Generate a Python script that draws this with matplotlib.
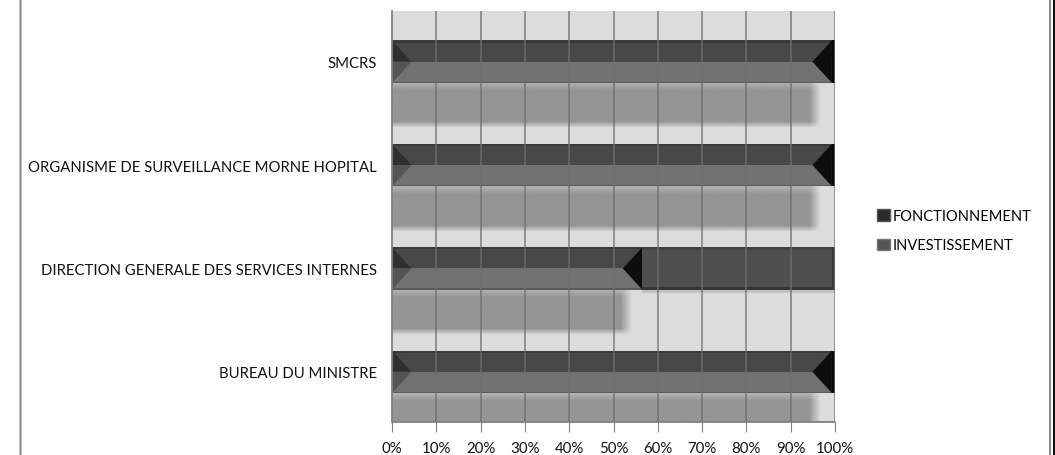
import numpy as np
import matplotlib
matplotlib.use("Agg")
import matplotlib.pyplot as plt
from matplotlib.patches import Rectangle, Polygon, FancyBboxPatch, Patch

# ---- data ----
categories = ["BUREAU DU MINISTRE",
              "DIRECTION GENERALE DES SERVICES INTERNES",
              "ORGANISME DE SURVEILLANCE MORNE HOPITAL",
              "SMCRS"]
fonctionnement = [99.3, 56.5, 99.3, 99.3]
investissement = [0.7, 43.5, 0.7, 0.7]
tick_labels = ["0%", "10%", "20%", "30%", "40%", "50%", "60%", "70%", "80%", "90%", "100%"]
series_names = ["FONCTIONNEMENT", "INVESTISSEMENT"]

FONT = ["Lato", "DejaVu Sans"]
plt.rcParams['font.family'] = FONT

fig = plt.figure(figsize=(10.55, 4.56), dpi=100)
ax = fig.add_axes([392/1055, 33/456, 443/1055, 411/456])
ax.set_facecolor("#dcdcdc")

H = 0.41
TW = 4.4  # bevel width in percent units

def soft_rect(ax, x0, x1, y0, y1, color, soft_x, soft_y, z):
    nx, ny = 400, 80
    xs = np.linspace(x0, x1 + soft_x, nx)
    ys = np.linspace(y0 - soft_y, y1, ny)
    X, Y = np.meshgrid(xs, ys)
    ax_ = np.clip((x1 + soft_x / 2 - X) / soft_x + 0.5, 0, 1)
    ay_ = np.clip((Y - (y0 - soft_y / 2)) / soft_y + 0.5, 0, 1)
    top = np.clip((y1 - Y) / (soft_y * 1.2), 0, 1) * 0.45 + 0.55
    a = ax_ * ay_ * top
    img = np.zeros((ny, nx, 4))
    c = matplotlib.colors.to_rgb(color)
    img[..., 0], img[..., 1], img[..., 2] = c
    img[..., 3] = a
    ax.imshow(img, extent=(x0, x1 + soft_x, y0 - soft_y, y1), origin="lower",
              aspect="auto", interpolation="bilinear", zorder=z)

for i, (f, inv) in enumerate(zip(fonctionnement, investissement)):
    yb = i - H / 2
    # shadow below fonctionnement bar
    soft_rect(ax, 0, f - 5, yb - H + 0.03, yb, "#959595", 2.5, 0.06, 1)

for i, (f, inv) in enumerate(zip(fonctionnement, investissement)):
    yb, yt, ym = i - H / 2, i + H / 2, i
    # fonctionnement: bevelled bar
    ax.add_patch(Rectangle((0, ym), f, H / 2, facecolor="#484848", edgecolor="none", zorder=3))
    ax.add_patch(Rectangle((0, yb), f, H / 2, facecolor="#717171", edgecolor="none", zorder=3))
    ax.add_patch(Rectangle((0, yt - 0.02), f, 0.02, facecolor="#3a3a3a", edgecolor="none", zorder=3))
    ax.add_patch(Rectangle((0, yb), f, 0.012, facecolor="#5a5a5a", edgecolor="none", zorder=3))
    ax.add_patch(Polygon([(0, yt), (TW, ym), (0, ym)], closed=True, facecolor="#2f2f2f", edgecolor="none", zorder=3))
    ax.add_patch(Polygon([(0, ym), (TW, ym), (0, yb)], closed=True, facecolor="#545454", edgecolor="none", zorder=3))
    ax.add_patch(Polygon([(f, yt), (f - TW, ym), (f, yb)], closed=True, facecolor="#0d0d0d", edgecolor="none", zorder=3))
    # investissement
    ax.add_patch(Rectangle((f, yb), inv, H, facecolor="#4f4f4f" if inv > 5 else "#0a0a0a",
                           edgecolor="none", zorder=3))
    if inv > 5:
        ax.add_patch(Rectangle((f, yt - 0.025), inv, 0.025, facecolor="#424242", edgecolor="none", zorder=3))
        ax.add_patch(Rectangle((f, yb), inv, 0.03, facecolor="#353535", edgecolor="none", zorder=3))
        ax.add_patch(Rectangle((f + inv - 0.6, yb), 0.6, H, facecolor="#3e3e3e", edgecolor="none", zorder=3))
        ax.add_patch(Rectangle((f, yb - 0.035), inv, 0.035, facecolor="#c2c2c2", edgecolor="none", zorder=2))

ax.set_xlim(0, 100)
ax.set_ylim(-0.485, 3.49)
ax.set_xticks(np.arange(0, 101, 10))
ax.set_xticklabels(tick_labels, fontsize=10.8, color="#111111")
ax.set_yticks(range(len(categories)))
ax.set_yticklabels(categories, fontsize=10.7, color="#111111")
ax.tick_params(axis="y", length=0, pad=11)
ax.tick_params(axis="x", length=7, color="#808080", pad=7, direction="out")
for x in np.arange(10, 101, 10):
    ax.axvline(x, color="#6f6f6f", lw=1.3, alpha=0.75, zorder=4)
for s in ["top", "right"]:
    ax.spines[s].set_visible(False)
for s in ["left", "bottom"]:
    ax.spines[s].set_color("#808080")
    ax.spines[s].set_linewidth(1.3)
    ax.spines[s].set_zorder(5)

handles = [Patch(facecolor="#2b2b2b", edgecolor="#555555"), Patch(facecolor="#555555", edgecolor="#777777")]
fig.legend(handles, series_names, loc="upper left", bbox_to_anchor=(877/1055, 1 - 210/456),
           frameon=False, fontsize=10.5, handlelength=0.9, handleheight=0.8, handletextpad=0.2,
           labelspacing=1.05, borderaxespad=0, borderpad=0)

# chart area border (rounded, bottom slightly below the image edge) and dark right edge
fig.patches.append(FancyBboxPatch((20.5/1055, -5/456), 1029.5/1055, 500/456,
                                  boxstyle="round,pad=0,rounding_size=0.012",
                                  transform=fig.transFigure, facecolor="none",
                                  edgecolor="#8a8a8a", lw=1.5, zorder=0))
fig.patches.append(Rectangle((1052.5/1055, 0), 2.5/1055, 1, transform=fig.transFigure,
                             facecolor="#111111", edgecolor="none", zorder=0))

fig.savefig("out.png", dpi=100)
